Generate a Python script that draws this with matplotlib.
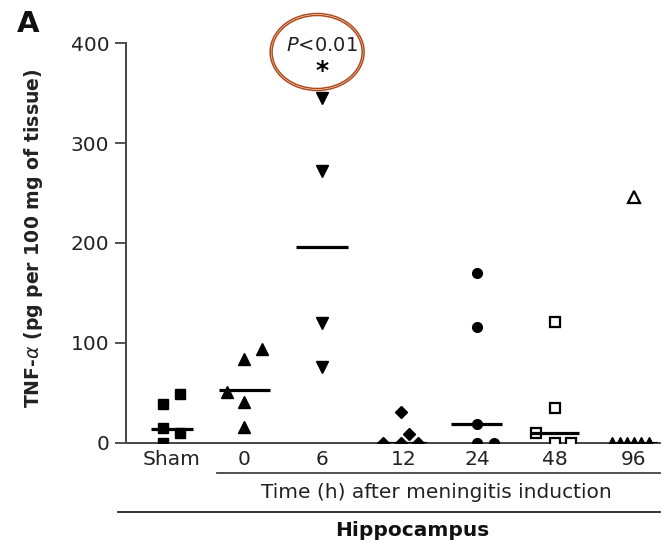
import matplotlib
matplotlib.use('Agg')
from matplotlib import pyplot as plt
from matplotlib.lines import Line2D
from matplotlib.patches import Ellipse

plt.rcParams['font.family'] = ['DejaVu Sans']

# groups along the x axis
groups = ['Sham', '0', '6', '12', '24', '48', '96']

# TNF-alpha values (pg per 100 mg of tissue)
sham = [39, 49, 15, 10, 0]
h0 = [51, 84, 94, 41, 16]
h6 = [345, 272, 120, 76]
h12 = [31, 9, 0, 0, 0]
h24 = [170, 116, 19, 0, 0]
h48 = [121, 35, 10, 0, 0]
h96 = [246, 0, 0, 0, 0, 0, 0]
medians = [14, 53, 196, 0, 19, 10, 0]

# group centres (the original spacing is a bit uneven) and point scatter
xpos = [0, 0.94, 1.95, 3.01, 3.96, 4.97, 6.0]
jitter = [
    [-0.11, 0.11, -0.11, 0.11, -0.11],
    [-0.22, 0.0, 0.23, 0.0, 0.0],
    [0.0, 0.0, 0.0, 0.0],
    [-0.04, 0.07, -0.27, -0.03, 0.18],
    [0.0, 0.0, 0.0, 0.0, 0.22],
    [0.0, 0.0, -0.24, 0.0, 0.21],
    [0.0, -0.29, -0.18, -0.09, 0.0, 0.09, 0.19],
]
med_half = [0.27, 0.33, 0.34, 0.3, 0.33, 0.32, 0.3]

styles = [
    dict(marker='s', ms=7, mfc='black', mec='black'),
    dict(marker='^', ms=9, mfc='black', mec='black'),
    dict(marker='v', ms=9, mfc='black', mec='black'),
    dict(marker='D', ms=6, mfc='black', mec='black'),
    dict(marker='o', ms=7, mfc='black', mec='black'),
    dict(marker='s', ms=7, mfc='white', mec='black', mew=1.6),
    dict(marker='^', ms=9, mfc='white', mec='black', mew=1.6),
]

W, H = 668, 546
fig = plt.figure(figsize=(W / 100, H / 100), dpi=100)
ax = fig.add_axes([126 / W, (H - 443) / H, (660 - 126) / W, 400 / H])

data = [sham, h0, h6, h12, h24, h48, h96]
for i, vals in enumerate(data):
    xs = [xpos[i] + j for j in jitter[i]]
    st = dict(styles[i])
    if i == 6:
        # the zero values at 96 h blur into a dark row in the original
        ax.plot([x for x, v in zip(xs, vals) if v == 0], [v for v in vals if v == 0],
                linestyle='none', zorder=3, marker='^', ms=8, mfc='black', mec='black')
        xs = [x for x, v in zip(xs, vals) if v != 0]
        vals = [v for v in vals if v != 0]
    ax.plot(xs, vals, linestyle='none', zorder=3, **st)
    ax.plot([xpos[i] - med_half[i], xpos[i] + med_half[i]], [medians[i]] * 2,
            color='black', lw=2.3, solid_capstyle='butt', zorder=4)

ax.set_ylim(0, 400)
ax.set_xlim(-0.597, 6.338)
ax.set_yticks([0, 100, 200, 300, 400])
ax.set_xticks(xpos)
ax.set_xticklabels(groups)
ax.tick_params(axis='y', length=8, width=1.3, color='#444444', labelsize=14.5, pad=4,
               labelcolor='#222222')
ax.tick_params(axis='x', length=0, labelsize=14.5, pad=5, labelcolor='#222222')
for s in ['top', 'right']:
    ax.spines[s].set_visible(False)
for s in ['left', 'bottom']:
    ax.spines[s].set_color('#444444')
    ax.spines[s].set_linewidth(1.4)

ax.set_ylabel(r'TNF-$\alpha$ (pg per 100 mg of tissue)', fontsize=13.6,
              fontweight='bold', color='#222222')
ax.yaxis.set_label_coords(-0.152, 0.5125)

# significance annotation over the 6 h group
ax.text(1.95, 398, '$P$<0.01', ha='center', va='center', fontsize=14, color='#222222')
ax.text(1.95, 372, '*', ha='center', va='center', fontsize=18, fontweight='bold')
for w, h in [(1.22, 77), (1.17, 73)]:
    ax.add_patch(Ellipse((1.885, 391), w, h, fill=False, edgecolor='#b04a1a',
                         lw=1.1, clip_on=False))

# bracket lines and captions under the axis
fig.add_artist(Line2D([217 / W, 660 / W], [1 - 473 / H] * 2, color='#444444', lw=1.3))
fig.add_artist(Line2D([118 / W, 660 / W], [1 - 512 / H] * 2, color='#222222', lw=1.3))
fig.text(436 / W, 1 - 493 / H, 'Time (h) after meningitis induction', ha='center',
         va='center', fontsize=14.5, color='#222222')
fig.text(412 / W, 1 - 530 / H, 'Hippocampus', ha='center', va='center',
         fontsize=14.5, fontweight='bold', color='#111111')
fig.text(28 / W, 1 - 24 / H, 'A', ha='center', va='center', fontsize=21,
         fontweight='bold', color='#111111')

fig.savefig('out.png', dpi=100)
